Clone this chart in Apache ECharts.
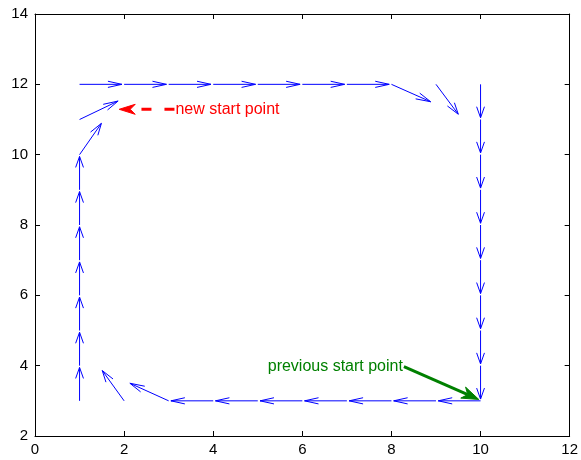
<!DOCTYPE html>
<html><head><meta charset="utf-8">
<script src="https://cdn.jsdelivr.net/npm/echarts@6/dist/echarts.min.js"></script>
<style>html,body{margin:0;padding:0;background:#fff}#c{width:581px;height:460px}</style>
</head><body><div id="c"></div>
<script>
// Quiver arrows: start points (x, y) and vector components (u, v)
const arrowX = [10,9,8,7,6,5,4,3,2,
                1,1,1,1,1,1,1,1,1,
                1,2,3,4,5,6,7,8,9,
                10,10,10,10,10,10,10,10,10];
const arrowY = [3,3,3,3,3,3,3,3,3,
                3,4,5,6,7,8,9,10,11,
                12,12,12,12,12,12,12,12,12,
                12,11,10,9,8,7,6,5,4];
const arrowU = [-0.95,-0.95,-0.95,-0.95,-0.95,-0.95,-0.95,-0.87,-0.49,
                0,0,0,0,0,0,0,0.49,0.865,
                0.95,0.95,0.95,0.95,0.95,0.95,0.95,0.88,0.50,
                0,0,0,0,0,0,0,0,0];
const arrowV = [0,0,0,0,0,0,0,0.50,0.86,
                0.95,0.95,0.95,0.95,0.95,0.95,0.95,0.89,0.525,
                0,0,0,0,0,0,0,-0.495,-0.85,
                -0.95,-0.95,-0.95,-0.95,-0.95,-0.95,-0.95,-0.95,-0.95];
const xTicks = [0,2,4,6,8,10,12];
const yTicks = [2,4,6,8,10,12,14];
// Annotation arrows: tail and tip in data coords
const noteLabels = ['new start point', 'previous start point'];
const noteTailX = [3.13, 8.28];
const noteTailY = [11.29, 3.97];
const noteTipX = [1.89, 9.96];
const noteTipY = [11.29, 3.04];

const FONT = "'Liberation Sans', Arial, Helvetica, sans-serif";
const quiverData = arrowX.map((x,i)=>[x, arrowY[i], arrowU[i], arrowV[i]]);
const noteData = noteLabels.map((t,i)=>[noteTailX[i], noteTailY[i], noteTipX[i], noteTipY[i], i]);

const chart = echarts.init(document.getElementById('c'), null, {renderer:'canvas'});
function axisCommon(extra){
  return Object.assign({
    type:'value',
    axisLine:{show:true, onZero:false, lineStyle:{color:'#000', width:1}},
    axisTick:{show:true, inside:true, length:5, lineStyle:{color:'#000'}},
    splitLine:{show:false},
    axisLabel:{show:false}
  }, extra);
}
chart.setOption({
  animation:false,
  backgroundColor:'#fff',
  grid:{left:35, right:10, top:14, bottom:24, containLabel:false},
  xAxis:[
    axisCommon({min:xTicks[0], max:xTicks[xTicks.length-1], interval:2, position:'bottom',
      axisLabel:{show:true, color:'#000', fontSize:15, fontFamily:FONT, margin:6}}),
    axisCommon({min:xTicks[0], max:xTicks[xTicks.length-1], interval:2, position:'top'})
  ],
  yAxis:[
    axisCommon({min:yTicks[0], max:yTicks[yTicks.length-1], interval:2, position:'left',
      axisLabel:{show:true, color:'#000', fontSize:15, fontFamily:FONT, margin:7}}),
    axisCommon({min:yTicks[0], max:yTicks[yTicks.length-1], interval:2, position:'right'})
  ],
  series:[
    {
      type:'custom', xAxisIndex:0, yAxisIndex:0, clip:false,
      data:quiverData,
      renderItem:function(params, api){
        const x=api.value(0), y=api.value(1), u=api.value(2), v=api.value(3);
        const a=0.33, b=0.28;
        const p0=api.coord([x,y]), p1=api.coord([x+u,y+v]);
        const h1=api.coord([x+u-a*(u+b*v), y+v-a*(v-b*u)]);
        const h2=api.coord([x+u-a*(u-b*v), y+v-a*(v+b*u)]);
        return {type:'group', children:[
          {type:'line', shape:{x1:p0[0],y1:p0[1],x2:p1[0],y2:p1[1]}, style:{stroke:'#0000ff', lineWidth:1}},
          {type:'polyline', shape:{points:[h1,p1,h2]}, style:{stroke:'#0000ff', lineWidth:1, fill:null}}
        ]};
      }
    },
    {
      type:'custom', xAxisIndex:0, yAxisIndex:0, clip:false,
      data:noteData,
      renderItem:function(params, api){
        const i=api.value(4);
        const t=api.coord([api.value(0), api.value(1)]);
        const p=api.coord([api.value(2), api.value(3)]);
        const color = i===0 ? '#ff0000' : '#008000';
        let dx=p[0]-t[0], dy=p[1]-t[1];
        const len=Math.sqrt(dx*dx+dy*dy); dx/=len; dy/=len;
        const nx=-dy, ny=dx;
        const L = i===0 ? 16 : 17, W = i===0 ? 5 : 6, N = 5;
        const back=[p[0]-L*dx, p[1]-L*dy];
        const notch=[p[0]-(L-N)*dx, p[1]-(L-N)*dy];
        const head=[p, [back[0]+W*nx, back[1]+W*ny], notch, [back[0]-W*nx, back[1]-W*ny]];
        const lineStyle = {stroke:color, lineWidth:3};
        if(i===0){ lineStyle.lineDash=[10,13]; }
        return {type:'group', children:[
          {type:'line', shape:{x1:t[0],y1:t[1],x2:notch[0],y2:notch[1]}, style:lineStyle},
          {type:'polygon', shape:{points:head}, style:{fill:color, stroke:color, lineWidth:1}},
          {type:'text', x: i===0 ? t[0]+1 : t[0]-1, y:t[1],
            style:{text:noteLabels[i], fill:color, font:'16px '+FONT,
              align: i===0 ? 'left' : 'right', verticalAlign:'middle'}}
        ]};
      }
    }
  ]
});
</script></body></html>
